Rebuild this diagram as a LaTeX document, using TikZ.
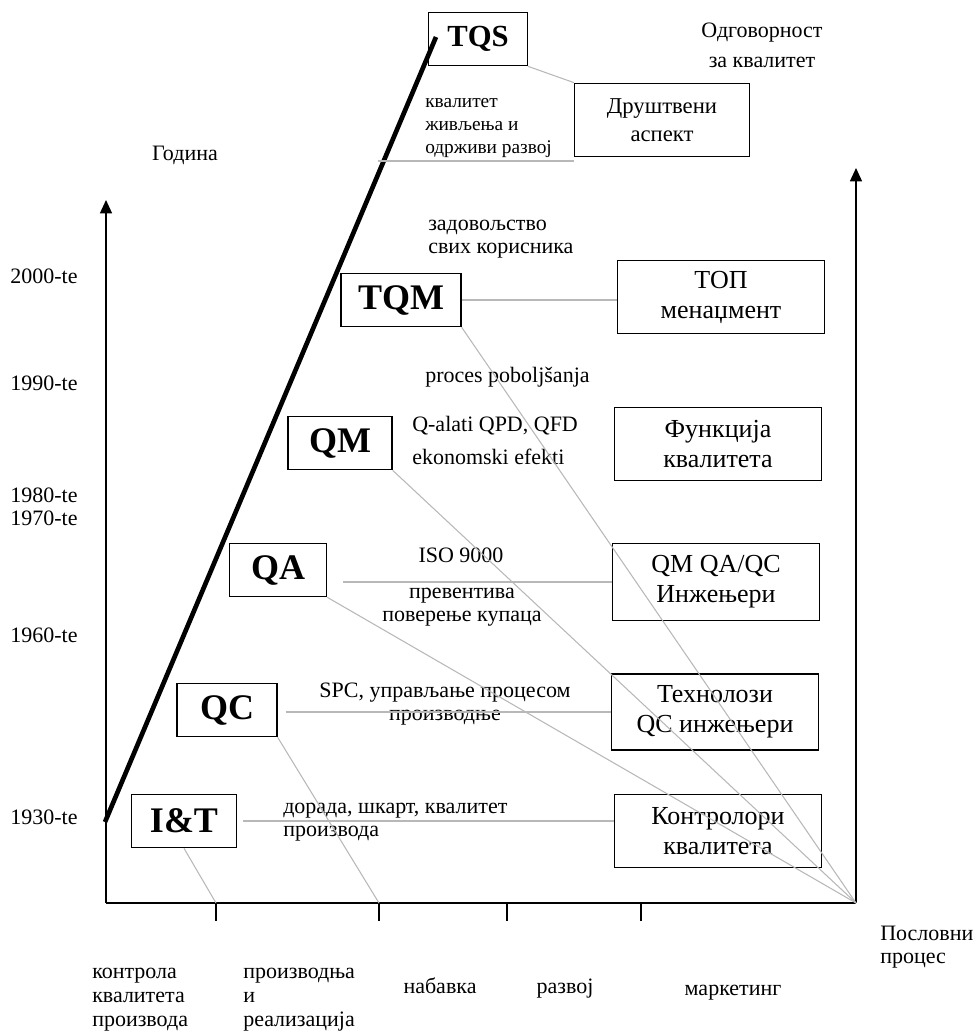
\documentclass[tikz,border=0pt]{standalone}
\usepackage{fontspec}
\setmainfont{Liberation Serif}
\usetikzlibrary{arrows.meta}

\newcommand{\erafont}{\fontsize{27}{30}\selectfont\bfseries}
\newcommand{\rolefont}{\fontsize{19.5}{22.5}\selectfont}
\newcommand{\notefont}{\fontsize{16.5}{17.3}\selectfont}
\newcommand{\smallnotefont}{\fontsize{14.5}{17.3}\selectfont}
\newcommand{\axisfont}{\fontsize{16.5}{22.5}\selectfont}

\tikzstyle{every node}=[font=\notefont, inner sep=0pt]
\tikzstyle{era}=[draw, line width=1pt, font=\erafont, minimum height=40pt]
\tikzstyle{role}=[draw, line width=1pt, font=\rolefont, align=center, minimum width=155pt, minimum height=55pt]
\tikzstyle{link}=[black!28, line width=0.8pt]
\tikzstyle{note}=[align=left, anchor=west]
\tikzstyle{axis}=[line width=1pt, -{Triangle[width=9pt,length=10pt]}]

\begin{document}
\begin{tikzpicture}[x=0.75pt, y=-0.75pt]
            \useasboundingbox (0,0) rectangle (979,1031);

            % 坐标轴
            \coordinate (origin) at (106,903);
            \coordinate (corner) at (856,903);
            \coordinate (ytop) at (106,200);
            \coordinate (rtop) at (856,168);
            \draw[axis] (origin) -- (ytop);
            \draw[line width=1pt] (origin) -- (corner);
            \draw[axis] (corner) -- (rtop);
            \foreach \t in {216,379,507,641}
                \draw[line width=1pt] (\t,903) -- (\t,921);

            % 粗线
            \coordinate (rise0) at (105,822);
            \coordinate (rise1) at (436,37);
            \draw[line width=3.5pt] (rise0) -- (rise1);

            % 年份
            \node[font=\axisfont] (y2000) at (44,276) {2000-te};
            \node[font=\axisfont] (y1990) at (44,383) {1990-te};
            \node[font=\axisfont] (y1980) at (44,495) {1980-te};
            \node[font=\axisfont] (y1970) at (44,518) {1970-te};
            \node[font=\axisfont] (y1960) at (44,635) {1960-te};
            \node[font=\axisfont] (y1930) at (44,817) {1930-te};
            \node[font=\axisfont] (godina) at (185,155) {Година};
            \node[font=\axisfont, align=center] (odgovornost) at (762,45) {Одговорност\\за квалитет};

            % 阶段框
            \node[era, minimum width=74pt, font=\fontsize{23}{26}\selectfont\bfseries] (tqs) at (478,39) {TQS};
            \node[era, minimum width=90pt] (tqm) at (401,300) {TQM};
            \node[era, minimum width=78pt] (qm) at (340,443) {QM};
            \node[era, minimum width=73pt] (qa) at (278,570) {QA};
            \node[era, minimum width=75pt] (qc) at (227,710) {QC};
            \node[era, minimum width=79pt] (it) at (184,821) {I\&T};

            % 责任框
            \node[role, minimum width=131pt, font=\fontsize{17}{21}\selectfont] (drustveni) at (662,120) {Друштвени\\аспект};
            \node[role] (top) at (721,297) {ТОП\\менаџмент};
            \node[role] (funkcija) at (718,444) {Функција\\квалитета};
            \node[role, minimum height=58pt] (inzenjeri) at (716,582) {QM QA/QC\\Инжењери};
            \node[role, minimum height=57pt] (tehnolozi) at (715,712) {Технолози\\QC инжењери};
            \node[role] (kontrolori) at (718,831) {Контролори\\квалитета};

            % 说明文字
            \node[note, font=\smallnotefont] (zivljenje) at (425,128) {квалитет\\живљења и\\одрживи развој};
            \node[note] (zadovoljstvo) at (428,239) {задовољство\\свих корисника};
            \node[note] (proces) at (425,377) {proces poboljšanja};
            \node[note] (qalati) at (412,426) {Q-alati QPD, QFD};
            \node[note] (ekonomski) at (412,457) {ekonomski efekti};
            \node (iso) at (461,555) {ISO 9000};
            \node[align=center] (preventiva) at (462,607) {превентива\\поверење купаца};
            \node[align=center] (spc) at (445,704) {SPC, управљање процесом\\производње};
            \node[note] (dorada) at (283,822) {дорада, шкарт, квалитет\\производа};

            % 业务流程
            \node[note, font=\fontsize{16.5}{18}\selectfont] (kontrola) at (92,1000) {контрола\\квалитета\\производа};
            \node[note, font=\fontsize{16.5}{18}\selectfont] (proizvodnja) at (243,1000) {производња\\и\\реализација};
            \node[anchor=base] (nabavka) at (440,993) {набавка};
            \node[anchor=base] (razvoj) at (565,993) {развој};
            \node[anchor=base] (marketing) at (733,995) {маркетинг};
            \node[note] (poslovni) at (880,947) {Пословни\\процес};

            % 连线
            \draw[link] (tqs.south east) -- (drustveni.north west);
            \coordinate (tqsline) at (378,161);
            \draw[link] (tqsline) -- (tqsline -| drustveni.west);
            \draw[link] (tqm.east) -- (tqm.east -| top.west);
            \draw[link, shorten <=12pt] (qa.east |- inzenjeri.west) -- (inzenjeri.west);
            \draw[link, shorten <=6pt] (qc.east |- tehnolozi.west) -- (tehnolozi.west);
            \draw[link, shorten <=4pt] (it.east) -- (it.east -| kontrolori.west);
            \draw[link] (tqm.south east) -- (corner);
            \draw[link] (qm.south east) -- (corner);
            \draw[link] (qa.south east) -- (corner);
            \coordinate (tick1) at (216,903);
            \coordinate (tick2) at (379,903);
            \draw[link] (it.south) -- (tick1);
            \draw[link] (qc.south east) -- (tick2);
        \end{tikzpicture}
\end{document}
